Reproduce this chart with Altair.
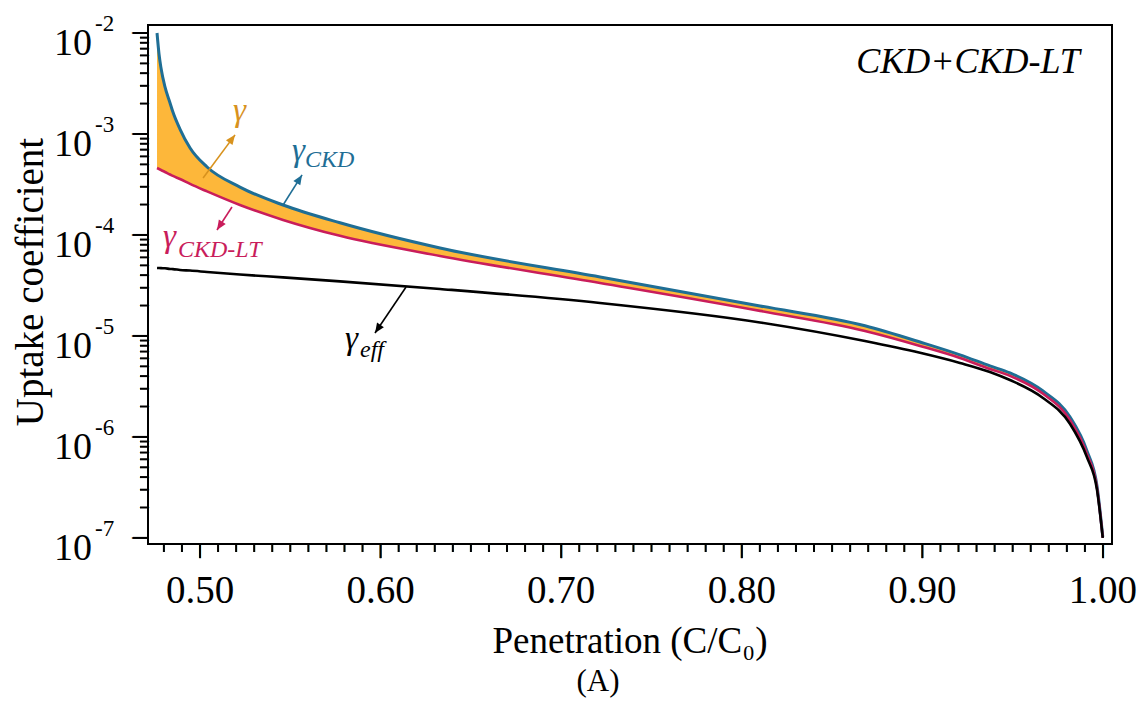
import altair as alt
import pandas as pd

# ---------------- data ----------------
penetration = [0.4762, 0.4773, 0.4784, 0.4806, 0.4834, 0.4850, 0.4889, 0.4945, 0.5039, 0.5221,
               0.5460, 0.5775, 0.6329, 0.7215, 0.8101, 0.8682, 0.8987, 0.9208, 0.9374, 0.9485,
               0.9668, 0.9817, 0.9911, 0.9967, 0.9999]
gamma_ckd = [1.0e-2, 6.19e-3, 4.5e-3, 2.92e-3, 2.03e-3, 1.65e-3, 1.12e-3, 7.26e-4, 4.71e-4, 2.98e-4,
             1.98e-4, 1.32e-4, 7.43e-5, 3.84e-5, 1.98e-5, 1.26e-5, 8.7e-6, 6.5e-6, 5.05e-6, 4.3e-6,
             2.85e-6, 1.58e-6, 7.3e-7, 3.27e-7, 1.02e-7]
gamma_ckd_lt = [4.6e-4, 4.5e-4, 4.4e-4, 4.2e-4, 3.97e-4, 3.84e-4, 3.58e-4, 3.2e-4, 2.7e-4, 1.98e-4,
                1.41e-4, 9.8e-5, 6.2e-5, 3.35e-5, 1.77e-5, 1.12e-5, 7.96e-6, 6.05e-6, 4.71e-6, 4.02e-6,
                2.67e-6, 1.47e-6, 6.8e-7, 3.13e-7, 1.0e-7]
gamma_eff = [4.71e-5, 4.70e-5, 4.69e-5, 4.68e-5, 4.6e-5, 4.59e-5, 4.5e-5, 4.44e-5, 4.3e-5, 4.06e-5,
             3.8e-5, 3.47e-5, 2.92e-5, 2.12e-5, 1.36e-5, 8.9e-6, 6.8e-6, 5.4e-6, 4.4e-6, 3.66e-6,
             2.43e-6, 1.35e-6, 6.3e-7, 3.0e-7, 1.0e-7]

x_major_ticks = [0.5, 0.6, 0.7, 0.8, 0.9, 1.0]
x_tick_labels = ["0.50", "0.60", "0.70", "0.80", "0.90", "1.00"]
x_minor_ticks = [round(0.48 + 0.01 * i, 2) for i in range(53) if (48 + i) % 10 != 0]
y_major_ticks = [1e-7, 1e-6, 1e-5, 1e-4, 1e-3, 1e-2]
y_minor_ticks = [m * 10.0 ** e for e in range(-7, -2) for m in range(2, 10)]
decade_values = [1e-2, 1e-3, 1e-4, 1e-5, 1e-6, 1e-7]
decade_exponents = ["-2", "-3", "-4", "-5", "-6", "-7"]

x_title = "Penetration (C/C₀)"
y_title = "Uptake coefficient"

# annotation labels (anchor in data units)
label_text = ["γ", "γ", "CKD", "γ", "CKD-LT", "γ", "eff"]
label_x = [0.5183, 0.5509, 0.5581, 0.4795, 0.4878, 0.5803, 0.5886]
label_y = [1.35e-3, 5.4e-4, 4.71e-4, 7.6e-5, 6.05e-5, 7.43e-6, 6.19e-6]
label_kind = ["main", "main", "sub", "main", "sub", "main", "sub"]
label_series = ["gamma", "ckd", "ckd", "lt", "lt", "eff", "eff"]

# arrows (start -> tip, data units)
arrow_series = ["gamma", "ckd", "lt", "eff"]
arrow_x = [0.5017, 0.5460, 0.5177, 0.6141]
arrow_y = [3.67e-4, 1.98e-4, 1.89e-4, 3.05e-5]
arrow_x2 = [0.5194, 0.5565, 0.5094, 0.5969]
arrow_y2 = [9.8e-4, 3.93e-4, 1.12e-4, 1.07e-5]
arrow_angle = [36.7, 32.3, 213, 214]

# ---------------- styling ----------------
FONT = "Liberation Serif"
BLUE = "#1f6e95"
RED = "#c91d5b"
ORANGE_FILL = "#fdb73a"
ORANGE = "#d8921d"
BLACK = "#000000"
series_color = {"gamma": ORANGE, "ckd": BLUE, "lt": RED, "eff": BLACK}
kind_size = {"main": 33, "sub": 24}
W, H = 964, 519

curves = pd.DataFrame({"p": penetration, "ckd": gamma_ckd, "lt": gamma_ckd_lt, "eff": gamma_eff})
labels = pd.DataFrame({"t": label_text, "x": label_x, "y": label_y,
                       "c": [series_color[s] for s in label_series],
                       "s": [kind_size[k] for k in label_kind]})
arrows = pd.DataFrame({"x": arrow_x, "y": arrow_y, "x2": arrow_x2, "y2": arrow_y2,
                       "a": arrow_angle, "c": [series_color[s] for s in arrow_series]})
decades = pd.DataFrame({"v": decade_values, "e": decade_exponents})
xlabels = pd.DataFrame({"v": x_major_ticks, "t": x_tick_labels})

xscale = alt.Scale(domain=[0.4712, 1.005], nice=False, zero=False)
yscale = alt.Scale(type="log", domain=[8.7e-8, 1.2e-2], nice=False)


def X(field):
    return alt.X(field, scale=xscale, axis=None)


def Y(field):
    return alt.Y(field, scale=yscale, axis=None)


area = alt.Chart(curves).mark_area(color=ORANGE_FILL, interpolate="monotone").encode(
    x=X("p:Q"), y=Y("ckd:Q"), y2="lt:Q",
)


def curve(field, color, width):
    return alt.Chart(curves).mark_line(color=color, strokeWidth=width, interpolate="monotone").encode(
        x=X("p:Q"), y=Y(f"{field}:Q"),
    )


line_ckd = curve("ckd", BLUE, 3)
line_lt = curve("lt", RED, 2.6)
line_eff = curve("eff", BLACK, 2.6)


# tick marks drawn through the scales (line-shaped symbols)
def xticks(values, length):
    return alt.Chart(pd.DataFrame({"tx": values})).mark_point(
        shape="M0,0L0,1", filled=False, stroke="black", strokeWidth=2, opacity=1,
        size=(2 * length) ** 2, strokeCap="butt",
    ).encode(x=X("tx:Q"), y=alt.value(H))


def yticks(values, length):
    return alt.Chart(pd.DataFrame({"ty": values})).mark_point(
        shape="M0,0L-1,0", filled=False, stroke="black", strokeWidth=2, opacity=1,
        size=(2 * length) ** 2, strokeCap="butt",
    ).encode(y=Y("ty:Q"), x=alt.value(0))


# the same ticks as bar glyphs (text marks), placed through the scales
def xtick_glyphs(values, length):
    return alt.Chart(pd.DataFrame({"gx": values})).mark_text(
        text="|", font="DejaVu Sans", fontWeight="bold", fontSize=length, align="center",
        baseline="top", color="black",
    ).encode(x=X("gx:Q"), y=alt.value(H))


def ytick_glyphs(values, length):
    return alt.Chart(pd.DataFrame({"gy": values})).mark_text(
        text="|", font="DejaVu Sans", fontWeight="bold", fontSize=length, align="center",
        baseline="top", angle=90, color="black",
    ).encode(y=Y("gy:Q"), x=alt.value(0))


tick_layers = [xticks(x_major_ticks, 14), xticks(x_minor_ticks, 8),
               yticks(y_major_ticks, 15), yticks(y_minor_ticks, 8),
               xtick_glyphs(x_major_ticks, 14), xtick_glyphs(x_minor_ticks, 8),
               ytick_glyphs(y_major_ticks, 15), ytick_glyphs(y_minor_ticks, 8)]

x_tick_text = alt.Chart(xlabels).mark_text(
    font=FONT, fontSize=39, align="center", baseline="alphabetic", color="black"
).encode(x=X("v:Q"), y=alt.value(H + 59), text="t:N")

ten = alt.Chart(decades).mark_text(font=FONT, fontSize=38, align="right", baseline="alphabetic", dy=22,
                                  color="black").encode(
    x=alt.value(-56), y=Y("v:Q"), text=alt.value("10"),
)
expo = alt.Chart(decades).mark_text(font=FONT, fontSize=23, align="left", baseline="alphabetic", dy=-2,
                                   color="black").encode(
    x=alt.value(-53), y=Y("v:Q"), text="e:N",
)

x_title_text = alt.Chart(pd.DataFrame({"t": [x_title]})).mark_text(
    font=FONT, fontSize=37, align="center", baseline="alphabetic", color="black"
).encode(x=alt.value(482), y=alt.value(H + 109), text="t:N")

y_title_text = alt.Chart(pd.DataFrame({"t": [y_title]})).mark_text(
    font=FONT, fontSize=39, align="center", baseline="alphabetic", angle=270, color="black"
).encode(x=alt.value(-105), y=alt.value(257), text="t:N")

arrow_lines = alt.Chart(arrows).mark_rule(strokeWidth=1.6).encode(
    x=X("x:Q"), y=Y("y:Q"), x2="x2:Q", y2="y2:Q", color=alt.Color("c:N", scale=None),
)
arrow_heads = alt.Chart(arrows).mark_point(
    shape="M0,0L0.42,1L-0.42,1Z", filled=True, size=380, opacity=1, strokeWidth=0
).encode(
    x=X("x2:Q"), y=Y("y2:Q"),
    angle=alt.Angle("a:Q", scale=None), color=alt.Color("c:N", scale=None),
)

ann = alt.Chart(labels).mark_text(font=FONT, fontStyle="italic", align="left", baseline="alphabetic").encode(
    x=X("x:Q"), y=Y("y:Q"),
    text="t:N", color=alt.Color("c:N", scale=None), size=alt.Size("s:Q", scale=None),
)

model = alt.Chart(pd.DataFrame({"t": ["CKD+CKD-LT"]})).mark_text(
    font=FONT, fontStyle="italic", fontSize=36, align="center", baseline="alphabetic", color="black"
).encode(x=alt.value(820), y=alt.value(48), text="t:N")

panel = alt.Chart(pd.DataFrame({"t": ["(A)"]})).mark_text(
    font=FONT, fontSize=31, align="center", baseline="alphabetic", color="black"
).encode(x=alt.value(450), y=alt.value(666), text="t:N")

chart = alt.layer(
    area, line_ckd, line_lt, line_eff, arrow_lines, arrow_heads, ann,
    x_tick_text, ten, expo, x_title_text, y_title_text, model, panel, *tick_layers
).properties(
    width=W, height=H,
    padding={"left": 140, "top": 17, "right": 26, "bottom": 154},
    autosize=alt.AutoSizeParams(type="none"),
    background="white",
).configure_view(
    stroke="black", strokeWidth=2
)

chart.save("out.html", embed_options={"renderer": "svg", "actions": False})
